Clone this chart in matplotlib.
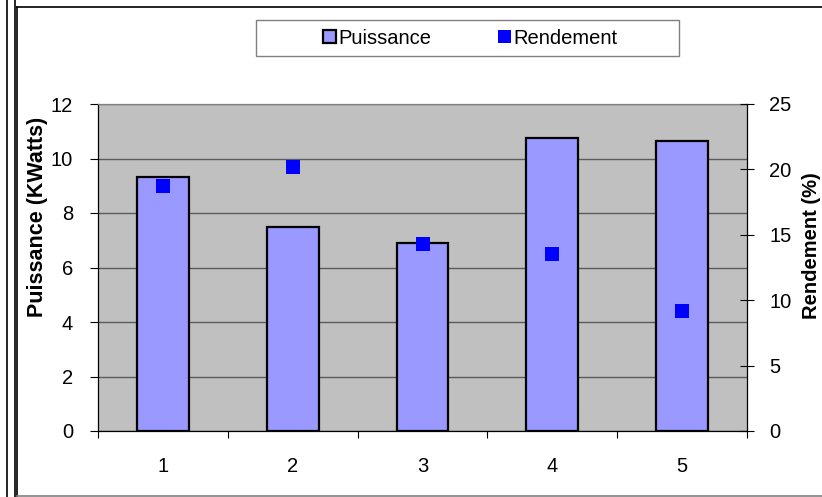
import matplotlib.pyplot as plt
import numpy as np
from matplotlib.lines import Line2D
from matplotlib.patches import Patch, Rectangle

plt.rcParams['font.family'] = ['Liberation Sans', 'DejaVu Sans']

categories = ['1', '2', '3', '4', '5']
puissance = [9.33, 7.47, 6.91, 10.75, 10.66]      # KWatts
rendement = [18.7, 20.2, 14.3, 13.5, 9.2]          # %

fs = 14.5
W, H = 822, 497

fig = plt.figure(figsize=[W/100, H/100], dpi=100)
ax = fig.add_axes([98/W, 1-431/H, 649/W, 327/H])
ax.set_facecolor('#C0C0C0')

x = np.arange(1, len(categories)+1)
ax.bar(x, puissance, width=0.4, color='#9999FF', edgecolor='black', linewidth=1.6, zorder=3)

ax.set_xlim(0.5, 5.5)
ax.set_ylim(0, 12)
ax.set_yticks(np.arange(0, 13, 2))
ax.yaxis.grid(True, color='#5a5a5a', linewidth=1.0)
ax.set_axisbelow(True)

ax.set_xticks(np.arange(0.5, 6, 1))
ax.set_xticklabels([''] * 6)
ax.set_xticks(x, minor=True)
ax.set_xticklabels(categories, minor=True)
ax.tick_params(axis='x', which='major', direction='out', length=5, width=0.8, color='black')
ax.tick_params(axis='x', which='minor', length=0, pad=19, labelsize=fs)
ax.tick_params(axis='y', direction='out', length=6, width=0.8, pad=12, labelsize=fs)

for s in ['left', 'bottom']:
    ax.spines[s].set_color('black')
    ax.spines[s].set_linewidth(0.9)
ax.spines['top'].set_color('#808080')
ax.spines['top'].set_linewidth(0.9)
ax.spines['right'].set_visible(False)

ax2 = ax.twinx()
ax2.plot(x, rendement, 's', color='#0000FF', markersize=10.5, markeredgewidth=0, zorder=5)
ax2.set_ylim(0, 25)
ax2.set_yticks(np.arange(0, 26, 5))
ax2.tick_params(axis='y', direction='inout', length=10, width=0.8, pad=11, labelsize=fs)
for s in ['left', 'bottom', 'top']:
    ax2.spines[s].set_visible(False)
ax2.spines['right'].set_color('black')
ax2.spines['right'].set_linewidth(0.9)

fig.text(38/W, 1-217/H, 'Puissance (KWatts)', rotation=90, ha='center', va='center',
         fontsize=15.5, fontweight='bold')
fig.text(811/W, 1-246/H, 'Rendement (%)', rotation=90, ha='center', va='center',
         fontsize=fs, fontweight='bold')

# legend box
fig.add_artist(Rectangle((256/W, 1-56/H), (679-256)/W, 36/H, transform=fig.transFigure,
                         facecolor='white', edgecolor='#808080', linewidth=1.0))
handles = [Patch(facecolor='#9999FF', edgecolor='black', linewidth=1.6),
           Patch(facecolor='#0000FF', edgecolor='none')]
fig.legend(handles, ['Puissance', 'Rendement'], loc='center', bbox_to_anchor=(470/W, 1-38/H),
           ncol=2, frameon=False, fontsize=fs, handlelength=0.65, handleheight=0.65,
           handletextpad=0.12, columnspacing=3.3, borderpad=0)

# outer frame lines
def fline(x0, y0, x1, y1, color='black', lw=1.2):
    fig.add_artist(Line2D([x0/W, x1/W], [1-y0/H, 1-y1/H], transform=fig.transFigure,
                          color=color, linewidth=lw))

fline(6.5, 0, 6.5, H)
fline(14.8, 0, 14.8, H)
fline(17.2, 7, 17.2, H)
fline(17.2, 7, W, 7)
fline(17.2, 495.5, W, 495.5, color='#808080')

fig.savefig('out.png', dpi=100)
